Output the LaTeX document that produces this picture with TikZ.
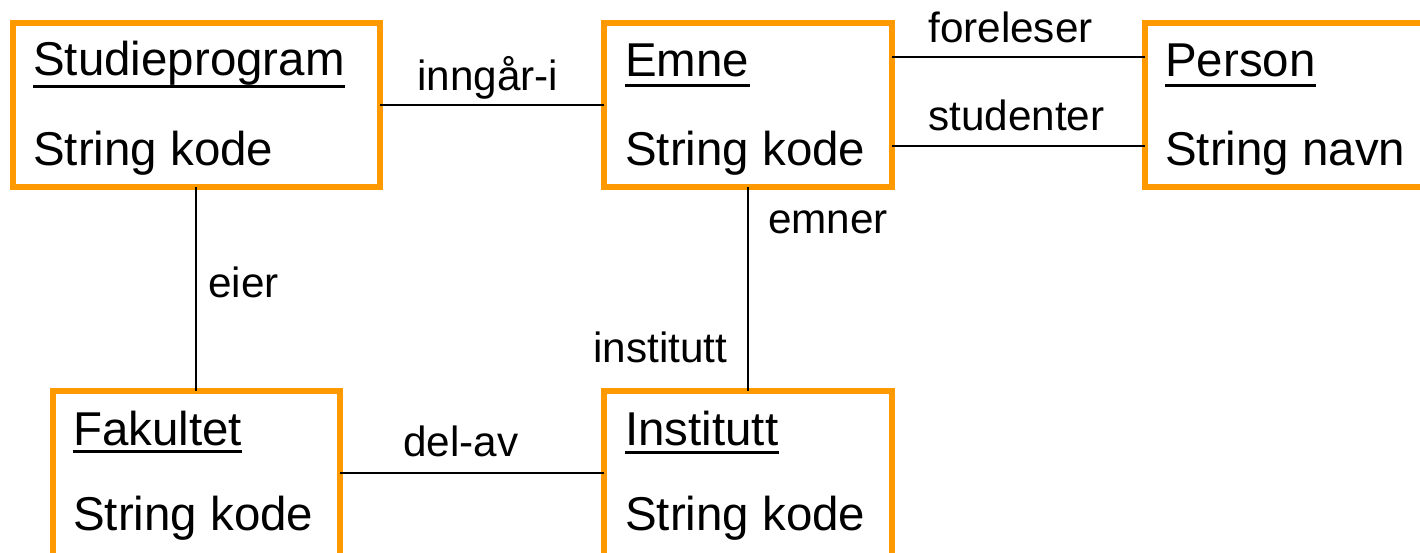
\documentclass[tikz,border=0pt]{standalone}
\usepackage{fontspec}
\setmainfont{Liberation Sans}
\definecolor{boxorange}{RGB}{255,153,0}
\tikzset{
  entity/.style={draw=boxorange, line width=4.5pt, fill=white, inner sep=0pt, outer sep=0pt, rectangle},
  title/.style={anchor=base west, inner sep=0pt, font=\fontsize{35.6}{40}\selectfont},
  attr/.style={anchor=base west, inner sep=0pt, font=\fontsize{35.6}{40}\selectfont},
  rolelabel/.style={anchor=base west, inner sep=0pt, font=\fontsize{31.7}{36}\selectfont},
  assoc/.style={draw=black, line width=1.4pt},
  uline/.style={draw=black, line width=2.3pt}
}
\begin{document}
\begin{tikzpicture}[x=0.75pt,y=-0.75pt]
\useasboundingbox (0,0) rectangle (1420,553);
\clip (0,0) rectangle (1420,553);
% boxes (sizes in pt = px * 0.75)
\node[entity, minimum width=275.25pt, minimum height=123pt] (sp) at (196.5,105) {};
\node[entity, minimum width=216pt, minimum height=123pt] (emne) at (748,105) {};
\node[entity, minimum width=228.75pt, minimum height=123pt] (person) at (1297.5,105) {};
\node[entity, minimum width=215.25pt, minimum height=126.75pt] (fak) at (196.5,475.5) {};
\node[entity, minimum width=216pt, minimum height=126.75pt] (inst) at (748,475.5) {};
% connectors
\draw[assoc] (sp.east) -- (emne.west);
\draw[assoc] ([yshift=36pt]emne.east) -- ([yshift=36pt]person.west);
\draw[assoc] ([yshift=-30.75pt]emne.east) -- ([yshift=-30.75pt]person.west);
\draw[assoc] ([xshift=-0.4pt]sp.south) -- ([xshift=-0.4pt]fak.north);
\draw[assoc] (emne.south) -- (inst.north);
\draw[assoc] ([yshift=1.9pt]fak.east) -- ([yshift=1.9pt]inst.west);
% texts
\node[title] (spT) at (33,75) {Studieprogram};
\node[attr] (spA) at (33,165) {String kode};
\node[title] (emneT) at (625,76) {Emne};
\node[attr] (emneA) at (625,165) {String kode};
\node[title] (personT) at (1165,76) {Person};
\node[attr] (personA) at (1165,165) {String navn};
\node[title] (fakT) at (73,445) {Fakultet};
\node[attr] (fakA) at (73,530) {String kode};
\node[title] (instT) at (625,445) {Institutt};
\node[attr] (instA) at (625,530) {String kode};
% underlines
\draw[uline] ([yshift=-8.4pt]spT.base west) -- ([yshift=-8.4pt]spT.base east);
\draw[uline] ([yshift=-6.8pt]emneT.base west) -- ([yshift=-6.8pt]emneT.base east);
\draw[uline] ([yshift=-6.8pt]personT.base west) -- ([yshift=-6.8pt]personT.base east);
\draw[uline] ([yshift=-5pt]fakT.base west) -- ([yshift=-5pt]fakT.base east);
\draw[uline] ([yshift=-5.3pt]instT.base west) -- ([yshift=-5.3pt]instT.base east);
% role labels
\node[rolelabel] (l1) at (417,90) {inngår-i};
\node[rolelabel] (l2) at (928,42) {foreleser};
\node[rolelabel] (l3) at (928,130) {studenter};
\node[rolelabel] (l4) at (208,297) {eier};
\node[rolelabel] (l5) at (768,233) {emner};
\node[rolelabel] (l6) at (593,362) {institutt};
\node[rolelabel] (l7) at (403,456) {del-av};
\end{tikzpicture}
\end{document}
